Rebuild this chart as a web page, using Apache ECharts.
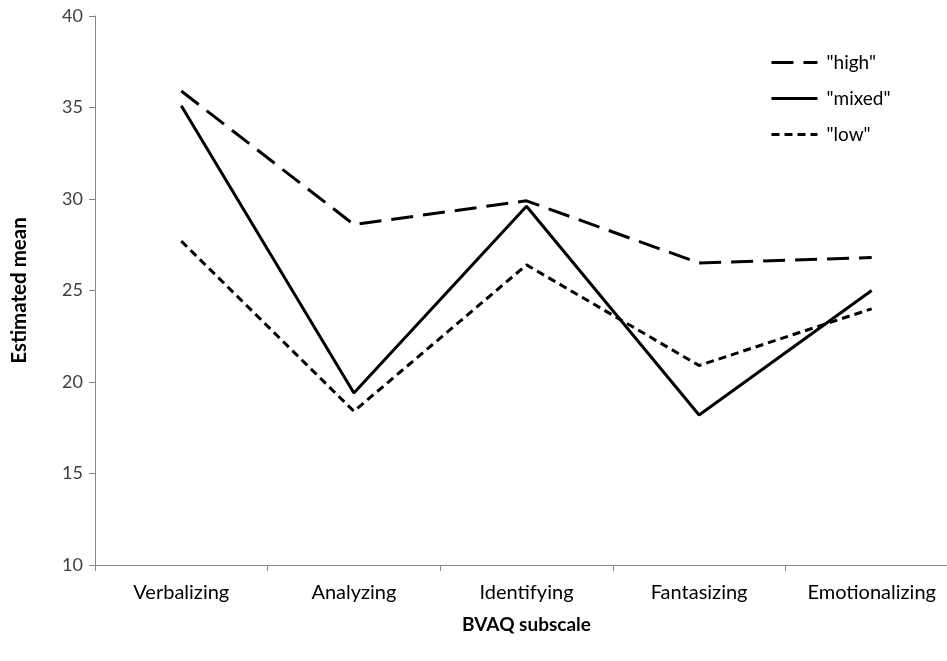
<!DOCTYPE html>
<html><head><meta charset="utf-8">
<script src="https://cdn.jsdelivr.net/npm/echarts@6/dist/echarts.min.js"></script>
<style>html,body{margin:0;padding:0;background:#fff;overflow:hidden;width:947px;height:661px}#c{width:962px;height:661px}</style>
</head><body><div id="c"></div>
<script>
var categories = ["Verbalizing", "Analyzing", "Identifying", "Fantasizing", "Emotionalizing"];
var highValues = [35.9, 28.6, 29.9, 26.5, 26.8];
var mixedValues = [35.1, 19.4, 29.6, 18.2, 25.0];
var lowValues = [27.7, 18.4, 26.4, 20.9, 24.0];
var seriesNames = ['"high"', '"mixed"', '"low"'];

var font = 'Lato, "Open Sans", sans-serif';
var chart = echarts.init(document.getElementById('c'), null, {renderer: 'canvas'});
chart.setOption({
  animation: false,
  backgroundColor: '#fff',
  textStyle: {fontFamily: font},
  grid: {left: 95, top: 16, bottom: 96, right: 4},
  legend: {
    orient: 'vertical', left: 765, top: 48,
    itemWidth: 46, itemHeight: 14, itemGap: 17,
    itemStyle: {opacity: 0},
    lineStyle: {width: 3},
    textStyle: {fontSize: 19, color: '#000', fontFamily: font, padding: [0,0,0,4]},
    data: seriesNames
  },
  xAxis: {
    type: 'category', data: categories, boundaryGap: true,
    name: 'BVAQ subscale', nameLocation: 'middle', nameGap: 50,
    nameTextStyle: {fontSize: 19, fontWeight: 'bold', color: '#000', fontFamily: font},
    axisLine: {lineStyle: {color: '#868686', width: 1}},
    axisTick: {show: true, alignWithLabel: false, length: 6, lineStyle: {color: '#868686'}},
    axisLabel: {fontSize: 20, color: '#000', margin: 18, fontFamily: font},
    splitLine: {show: false}
  },
  yAxis: {
    type: 'value', min: 10, max: 40, interval: 5,
    name: 'Estimated mean', nameLocation: 'middle', nameGap: 65, nameRotate: 90,
    nameTextStyle: {fontSize: 20.5, fontWeight: 'bold', color: '#000', fontFamily: font},
    axisLine: {show: true, lineStyle: {color: '#868686', width: 1}},
    axisTick: {show: true, length: 6, lineStyle: {color: '#868686'}},
    axisLabel: {fontSize: 18, color: '#404040', margin: 12, fontFamily: font},
    splitLine: {show: false}
  },
  series: [
    {name: seriesNames[0], type: 'line', data: highValues, symbol: 'none',
     lineStyle: {color: '#000', width: 3, type: [22, 10], cap: 'butt'}, itemStyle: {color: '#000'}},
    {name: seriesNames[1], type: 'line', data: mixedValues, symbol: 'none',
     lineStyle: {color: '#000', width: 3, type: 'solid'}, itemStyle: {color: '#000'}},
    {name: seriesNames[2], type: 'line', data: lowValues, symbol: 'none',
     lineStyle: {color: '#000', width: 3, type: [8, 5], cap: 'butt'}, itemStyle: {color: '#000'}}
  ]
});
</script></body></html>
